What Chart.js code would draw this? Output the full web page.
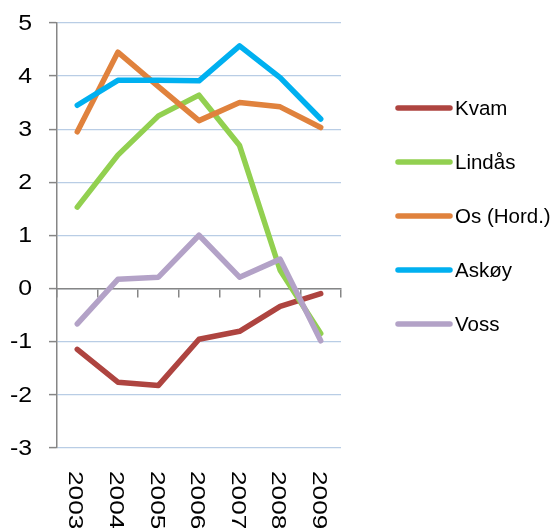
<!DOCTYPE html>
<html>
<head>
<meta charset="utf-8">
<script src="https://cdn.jsdelivr.net/npm/chart.js@4/dist/chart.umd.min.js"></script>
<style>
  html, body { margin: 0; padding: 0; background: #ffffff; }
  #wrap { width: 555px; height: 528px; position: relative; }
</style>
</head>
<body>
<div id="wrap"><canvas id="c" width="555" height="528"></canvas></div>
<script>
// ---- data ----
const years = ['2003', '2004', '2005', '2006', '2007', '2008', '2009'];
const seriesNames = ['Kvam', 'Lindås', 'Os (Hord.)', 'Askøy', 'Voss'];
const kvam   = [-1.15, -1.77, -1.83, -0.96, -0.81, -0.34, -0.10];
const lindas = [1.53, 2.51, 3.25, 3.64, 2.69, 0.34, -0.85];
const os     = [2.95, 4.45, 3.80, 3.16, 3.50, 3.42, 3.03];
const askoy  = [3.45, 3.92, 3.92, 3.91, 4.57, 3.97, 3.19];
const voss   = [-0.67, 0.17, 0.21, 1.00, 0.21, 0.55, -0.99];
const yTicks = [-3, -2, -1, 0, 1, 2, 3, 4, 5];

const colors = ['#AE4440', '#92D050', '#E0823D', '#00B0F0', '#B3A2C7'];
const values = [kvam, lindas, os, askoy, voss];

const FONT = '"Liberation Sans", Arial, sans-serif';

const datasets = values.map((v, i) => ({
  label: seriesNames[i],
  data: v,
  borderColor: colors[i],
  backgroundColor: colors[i],
  borderWidth: 5.5,
  borderCapStyle: 'round',
  borderJoinStyle: 'round',
  pointRadius: 0,
  pointHoverRadius: 0,
  tension: 0,
  fill: false,
  order: values.length - i,
  xAxisID: 'x',
  yAxisID: 'y'
}));

// custom drawing of stretched tick labels and the legend
const labelPlugin = {
  id: 'labelPlugin',
  afterDraw(chart) {
    const ctx = chart.ctx;
    const xs = chart.scales.x;
    const ys = chart.scales.y;
    ctx.save();
    ctx.fillStyle = '#000000';
    // y tick labels
    ctx.font = '22px ' + FONT;
    ctx.textAlign = 'right';
    ctx.textBaseline = 'middle';
    yTicks.forEach(t => {
      const py = ys.getPixelForValue(t);
      ctx.save();
      ctx.translate(32, py + 1);
      ctx.scale(1.13, 1);
      ctx.fillText(String(t), 0, 0);
      ctx.restore();
    });
    // x tick labels, rotated clockwise
    ctx.font = '21px ' + FONT;
    ctx.textAlign = 'left';
    ctx.textBaseline = 'middle';
    years.forEach((y, i) => {
      const px = xs.getPixelForValue(i);
      ctx.save();
      ctx.translate(px - 2, 471);
      ctx.rotate(Math.PI / 2);
      ctx.scale(1.25, 1);
      ctx.fillText(y, 0, 0);
      ctx.restore();
    });
    // legend
    ctx.font = '20.5px ' + FONT;
    ctx.textAlign = 'left';
    ctx.textBaseline = 'middle';
    seriesNames.forEach((n, i) => {
      const ly = 108 + 54 * i;
      ctx.beginPath();
      ctx.lineWidth = 5.5;
      ctx.lineCap = 'round';
      ctx.strokeStyle = colors[i];
      ctx.moveTo(398, ly);
      ctx.lineTo(450, ly);
      ctx.stroke();
      ctx.fillStyle = '#000000';
      ctx.fillText(n, 455, ly + 1);
    });
    ctx.restore();
  }
};

new Chart(document.getElementById('c'), {
  type: 'line',
  data: { labels: years, datasets },
  options: {
    responsive: false,
    animation: false,
    devicePixelRatio: 1,
    layout: { padding: { top: 23, right: 214, bottom: 0, left: 0 } },
    plugins: { legend: { display: false }, tooltip: { enabled: false } },
    scales: {
      x: {
        type: 'category',
        position: 'bottom',
        offset: true,
        grid: { display: false },
        border: { display: false },
        ticks: { display: false },
        afterFit(s) { s.height = 80.5; }
      },
      x2: {
        type: 'category',
        labels: years,
        position: { y: 0 },
        offset: true,
        grid: {
          offset: true,
          drawOnChartArea: false,
          drawTicks: true,
          tickLength: 8,
          tickColor: '#868686',
          color: '#868686',
          lineWidth: 1.5
        },
        border: { display: true, color: '#868686', width: 1.5 },
        ticks: { display: false }
      },
      y: {
        type: 'linear',
        position: 'left',
        min: -3,
        max: 5,
        ticks: { stepSize: 1, display: false },
        grid: {
          color: '#B9CDE5',
          lineWidth: 1.2,
          tickColor: '#868686',
          tickWidth: 1.5,
          tickLength: 8,
          drawTicks: true
        },
        border: { display: true, color: '#868686', width: 1.5 },
        afterFit(s) { s.width = 57; }
      }
    }
  },
  plugins: [labelPlugin]
});
</script>
</body>
</html>
